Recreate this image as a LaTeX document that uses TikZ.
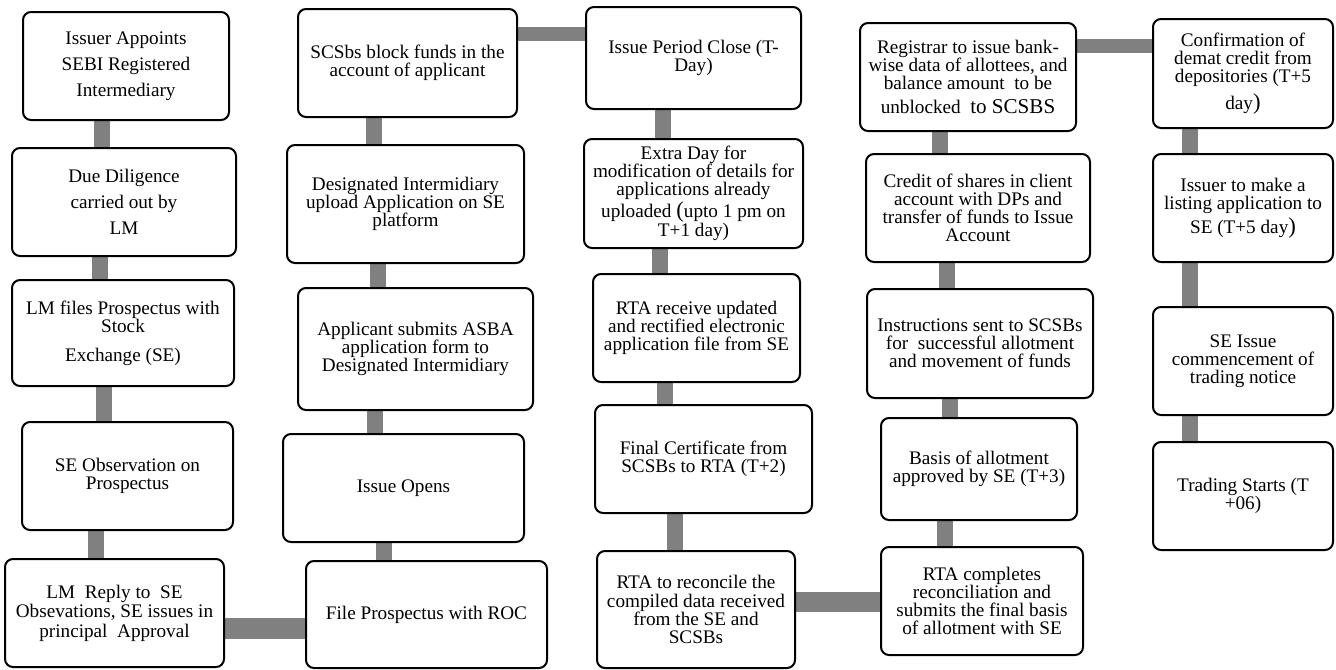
\documentclass[tikz,border=0pt]{standalone}
\usepackage{fontspec}
\setmainfont{Liberation Serif}
\usetikzlibrary{calc,backgrounds}
\definecolor{bargray}{HTML}{808080}
\newcommand{\bigparen}{\fontsize{17pt}{13.6pt}\selectfont}
\begin{document}
\begin{tikzpicture}
  [x=0.75pt,y=-0.75pt,
   every node/.style={draw,line width=1.5pt,rounded corners=6pt,fill=white,align=center,
     inner sep=0pt,font=\fontsize{14.4pt}{13.6pt}\selectfont},
   wh/.style 2 args={minimum width=#1*0.75pt,minimum height=#2*0.75pt},
   link/.style={draw=bargray,line width=12pt}]
  \useasboundingbox (0,0) rectangle (1336,669);
  % column 1
  \node[wh={206}{108}] (b1) at (126,66) {Issuer Appoints\\[6pt] SEBI Registered\\[6pt] Intermediary};
  \node[wh={224}{108}] (b2) at (124,202) {Due Diligence\\[6pt] carried out by\\[6pt] LM};
  \node[wh={222}{106}] (b3) at (123,333) {LM files Prospectus with\\ Stock\\[8pt] Exchange (SE)};
  \node[wh={211}{108}] (b4) at (127.5,476) {SE Observation on\\ Prospectus};
  \node[wh={219}{108}] (b5) at (114.5,613) {LM\ \ Reply to\ \ SE\\[1pt] Obsevations, SE issues in\\[1pt] principal\ \ Approval};
  % column 2
  \node[wh={219}{108}] (c1) at (407.5,63) {SCSbs block funds in the\\ account of applicant};
  \node[wh={237}{118}] (c2) at (405.5,204) {Designated Intermidiary\\ upload Application on SE\\ platform};
  \node[wh={235}{122}] (c3) at (415.5,349) {Applicant submits ASBA\\ application form to\\ Designated Intermidiary};
  \node[wh={241}{108}] (c4) at (403.5,488) {Issue Opens};
  \node[wh={241}{107}] (c5) at (426.5,614.5) {File Prospectus with ROC};
  % column 3
  \node[wh={215}{102}] (d1) at (693.5,58) {Issue Period Close (T-\\ Day)};
  \node[wh={219}{109}] (d2) at (693.5,193.5) {Extra Day for\\ modification of details for\\ applications already\\ uploaded {\bigparen(}upto 1 pm on\\ T+1 day)};
  \node[wh={207}{108}] (d3) at (696.5,328) {RTA receive updated\\ and rectified electronic\\ application file from SE};
  \node[wh={217}{108}] (d4) at (703.5,459) {Final Certificate from\\ SCSBs to RTA (T+2)};
  \node[wh={198}{117}] (d5) at (696,609.5) {RTA to reconcile the\\ compiled data received\\ from the SE and\\ SCSBs};
  % column 4
  \node[wh={216}{108}] (e1) at (968,77) {Registrar to issue bank-\\ wise data of allottees, and\\ balance amount\ \ to be\\[4pt] unblocked\ \ {\fontsize{15.8pt}{13.6pt}\selectfont to SCSBS}};
  \node[wh={224}{108}] (e2) at (978,208) {Credit of shares in client\\ account with DPs and\\ transfer of funds to Issue\\ Account};
  \node[wh={226}{109}] (e3) at (980,343.5) {Instructions sent to SCSBs\\ for\ \ successful allotment\\ and movement of funds};
  \node[wh={196}{102}] (e4) at (979,469) {Basis of allotment\\ approved by SE (T+3)};
  \node[wh={202}{108}] (e5) at (982,601) {RTA completes\\ reconciliation and\\ submits the final basis\\ of allotment with SE};
  % column 5
  \node[wh={180}{109}] (f1) at (1243,73.5) {Confirmation of\\ demat credit from\\ depositories (T+5\\[4pt] day{\bigparen)}};
  \node[wh={180}{108}] (f2) at (1243,208) {Issuer to make a\\ listing application to\\[2pt] SE (T+5 day{\bigparen)}};
  \node[wh={180}{108}] (f3) at (1243,361) {SE Issue\\ commencement of\\ trading notice};
  \node[wh={180}{108}] (f4) at (1243,496) {Trading Starts (T\\ +06)};

  \begin{scope}[on background layer]
  \foreach \source/\dest/\dx in {b1/b2/-24.5,b2/b3/-24,b3/b4/-19.5,b4/b5/-32,
      c1/c2/-33.5,c2/c3/-27.5,c3/c4/-41,c4/c5/-20,
      d1/d2/-30.5,d2/d3/-33.5,d3/d4/-31.5,d4/d5/-28.5,
      e1/e2/-28,e2/e3/-31.5,e3/e4/-30.5,e4/e5/-34,
      f1/f2/-53,f2/f3/-53,f3/f4/-53}
    \draw[link] ($(\source.south)+(\dx,0)$) -- ($(\source.south |- \dest.north)+(\dx,0)$);
  \foreach \source/\dest/\dy/\w in {b5/c5/15/15.75pt,c1/d1/-29/10.5pt,d5/e5/-7.5/15pt,e1/f1/-31/11pt}
    \draw[link,line width=\w] ($(\source.east)+(0,\dy)$) -- ($(\source.east -| \dest.west)+(0,\dy)$);
  \end{scope}
\end{tikzpicture}
\end{document}
